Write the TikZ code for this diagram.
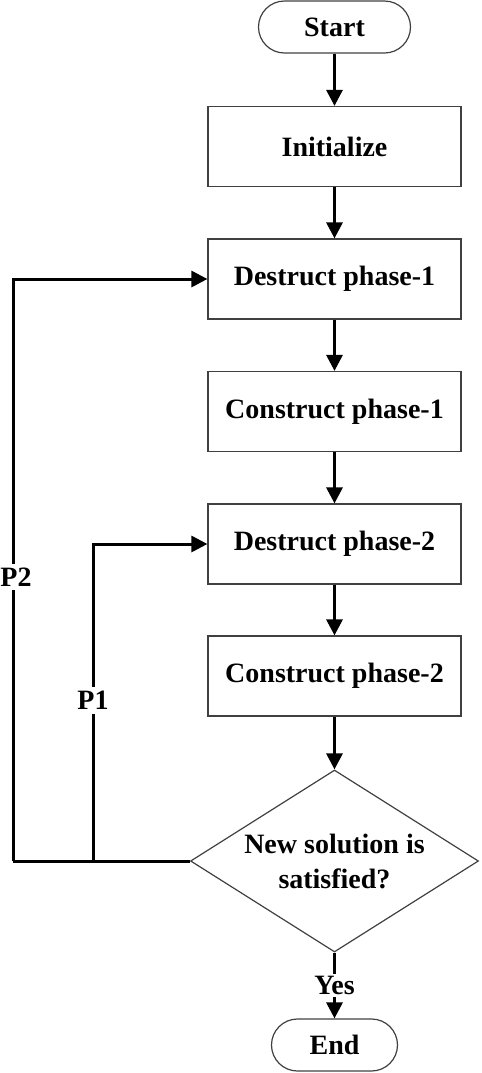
\documentclass[tikz,border=0pt]{standalone}
\usepackage{fontspec}
\setmainfont{Liberation Serif}
\usetikzlibrary{arrows.meta,shapes.geometric}
\begin{document}
\begin{tikzpicture}[x=0.5pt,y=-0.5pt,
    font=\fontsize{14}{17.5}\selectfont\bfseries,
    term/.style={draw=black!75,line width=0.6pt,rounded corners=13pt,minimum height=26pt,inner sep=0pt},
    proc/.style={draw=black!75,line width=0.6pt,minimum width=126.5pt,minimum height=40pt,inner sep=0pt},
    test/.style={draw=black!75,line width=0.6pt,diamond,aspect=1.58,minimum width=144pt,minimum height=91pt,inner sep=-9pt,align=center},
    flow/.style={line width=1.5pt,-{Triangle[length=8pt,width=8pt]}},
    link/.style={line width=1.5pt},
    tag/.style={fill=white,inner sep=2pt}]
      \useasboundingbox (0,0) rectangle (482,1073);
      \draw
        (334.5,27) node[term,minimum width=76pt] (start){Start}
        (334.5,146.5) node[proc] (init){Initialize}
        (334.5,279) node[proc] (d1){Destruct phase-1}
        (334.5,411.5) node[proc] (c1){Construct phase-1}
        (334.5,544) node[proc] (d2){Destruct phase-2}
        (334.5,676) node[proc] (c2){Construct phase-2}
        (334.5,861) node[test] (dec){New solution is\\satisfied?}
        (334.5,1045) node[term,minimum width=63pt] (end){End};
      \coordinate (p2) at (13,861);
      \coordinate (p1) at (93,861);
      \begin{scope}
        \draw[flow] (start) to (init);
        \draw[flow] (init) to (d1);
        \draw[flow] (d1) to (c1);
        \draw[flow] (c1) to (d2);
        \draw[flow] (d2) to (c2);
        \draw[flow] (c2) to (dec);
        \draw[flow] (dec) to node[tag,inner sep=1pt]{Yes} (end);
        \draw[link] (dec.west) to (p2);
        \draw[flow] (p2) |- node[tag,pos=0.244,xshift=1.5pt]{P2} (d1.west);
        \draw[flow] (p1) |- node[tag,pos=0.253]{P1} (d2.west);
      \end{scope}
    \end{tikzpicture}
\end{document}
